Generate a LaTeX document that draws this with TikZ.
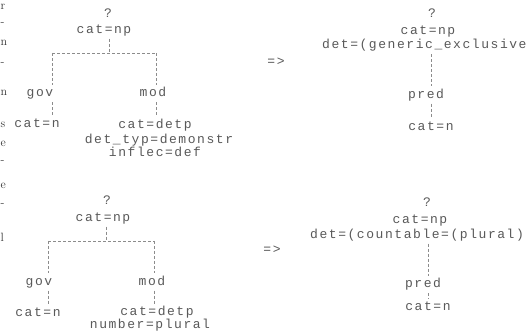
\documentclass[tikz,border=0pt]{standalone}
\usepackage{fontspec}
\newfontfamily\tw[LetterSpace=12]{Liberation Mono}
\begin{document}
\begin{tikzpicture}[x=1pt,y=-1pt,
  txt/.style={font=\tw\fontsize{13}{14.5}\selectfont, text=black!65, inner xsep=0pt, inner ysep=2pt, text height=10pt, text depth=3pt, anchor=base},
  txtw/.style={txt, anchor=base west},
  conn/.style={draw=black!45, densely dashed, line width=0.5pt},
  frag/.style={font=\fontsize{12}{14}\selectfont, text=black!80, inner sep=0pt, anchor=base west}]
\useasboundingbox (0,0) rectangle (531,331);
\fill[white] (0,0) rectangle (531,331);

% fragments of the neighbouring column at the left edge
\node[frag] (f0) at (0.5,10) {r};
\node[frag] (f1) at (0.5,26) {-};
\node[frag] (f2) at (0.5,46) {n};
\node[frag] (f3) at (0.5,66) {-};
\node[frag] (f4) at (0.5,96) {n};
\node[frag] (f5) at (0.5,128) {s};
\node[frag] (f6) at (0.5,147) {e};
\node[frag] (f7) at (0.5,164) {-};
\node[frag] (f8) at (0.5,189) {e};
\node[frag] (f9) at (0.5,207) {-};
\node[frag] (f10) at (0.5,242) {l};

% ---------- top left tree ----------
\node[txt] (q1) at (108,17.5) {?};
\node[txt] (np1) at (104,33.5) {cat=np};
\node[txt] (gov1) at (40,97) {gov};
\node[txt] (n1) at (37,127.5) {cat=n};
\node[txt] (mod1) at (153,97) {mod};
\node[txt] (d1a) at (155,128.5) {cat=detp};
\node[txt] (d1b) at (159,143.5) {det\_typ=demonstr};
\node[txt] (d1c) at (155,157) {inflec=def};
\coordinate (j1) at (109,53);
\coordinate (l1) at (52,53);
\coordinate (r1) at (156,53);
\draw[conn] (j1 |- np1.south) -- (j1);
\draw[conn] (l1) -- (r1);
\draw[conn] (l1) -- (l1 |- gov1.north);
\draw[conn] (l1 |- gov1.south) -- (l1 |- n1.north);
\draw[conn] (r1) -- (r1 |- mod1.north);
\draw[conn] (r1 |- mod1.south) -- (r1 |- d1a.north);

% ---------- top arrow ----------
\node[txt] (ar1) at (276,65.5) {=>};

% ---------- top right tree ----------
\node[txt] (q2) at (432,17.5) {?};
\node[txt] (np2) at (428,35) {cat=np};
\node[txtw] (det2) at (322,49) {det=(generic\_exclusive};
\node[txt] (pred2) at (426,98.5) {pred};
\node[txt] (n2) at (431,130.5) {cat=n};
\coordinate (a2) at (431,0);
\draw[conn] (a2 |- det2.south) -- (a2 |- pred2.north);
\draw[conn] (a2 |- pred2.south) -- (a2 |- n2.north);

% ---------- bottom left tree ----------
\node[txt] (q3) at (107,204.5) {?};
\node[txt] (np3) at (103,221.5) {cat=np};
\node[txt] (gov3) at (39,285.5) {gov};
\node[txt] (n3) at (38,316.5) {cat=n};
\node[txt] (mod3) at (152,285.5) {mod};
\node[txt] (d3a) at (157,316) {cat=detp};
\node[txt] (d3b) at (150,329) {number=plural};
\coordinate (j3) at (106,241);
\coordinate (l3) at (48,241);
\coordinate (r3) at (154,241);
\draw[conn] (j3 |- np3.south) -- (j3);
\draw[conn] (l3) -- (r3);
\draw[conn] (l3) -- (l3 |- gov3.north);
\draw[conn] (l3 |- gov3.south) -- (l3 |- n3.north);
\draw[conn] (r3) -- (r3 |- mod3.north);
\draw[conn] (r3 |- mod3.south) -- (r3 |- d3a.north);

% ---------- bottom arrow ----------
\node[txt] (ar2) at (272,253.5) {=>};

% ---------- bottom right tree ----------
\node[txt] (q4) at (427,206.5) {?};
\node[txt] (np4) at (420,223.5) {cat=np};
\node[txtw] (det4) at (310,238.5) {det=(countable=(plural)};
\node[txt] (pred4) at (423,288) {pred};
\node[txt] (n4) at (428,311) {cat=n};
\coordinate (a4) at (428,0);
\draw[conn] (a4 |- det4.south) -- (a4 |- pred4.north);
\draw[conn] (a4 |- pred4.south) -- (a4 |- n4.north);
\end{tikzpicture}
\end{document}
